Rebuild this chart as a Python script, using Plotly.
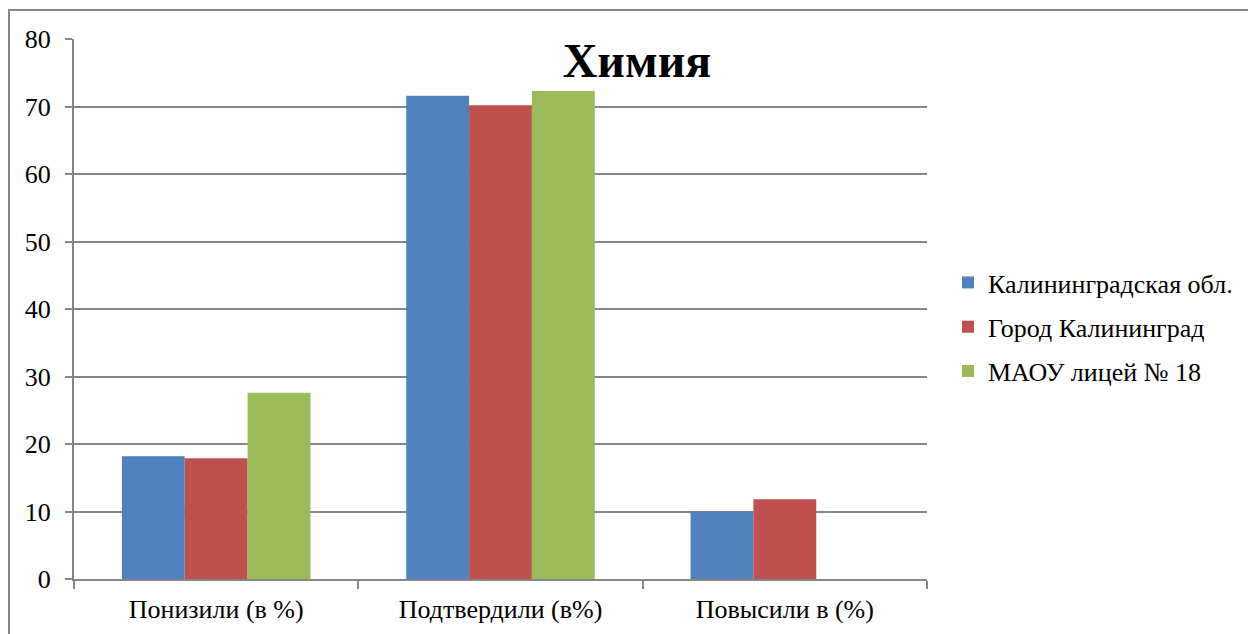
import plotly.graph_objects as go

categories = ["Понизили (в %)", "Подтвердили (в%)", "Повысили в (%)"]
series_names = ["Калининградская обл.", "Город Калининград", "МАОУ лицей № 18"]
region_values = [18.2, 71.6, 10.0]
city_values = [17.9, 70.2, 11.8]
school_values = [27.6, 72.3, 0]
colors = ["#4F81BD", "#C0504D", "#9BBB59"]
y_ticks = [0, 10, 20, 30, 40, 50, 60, 70, 80]
title_text = "Химия"

FONT = "Liberation Serif"
W, H = 1248, 626
OX, OY = 8, 8  # page body offset

fig = go.Figure()
for name, vals, col in zip(series_names, [region_values, city_values, school_values], colors):
    fig.add_trace(go.Bar(name=name, x=categories, y=vals, marker=dict(color=col, line=dict(width=0)),
                         legendgroup=name))

fig.update_layout(
    width=W, height=H,
    paper_bgcolor="white", plot_bgcolor="white",
    margin=dict(l=74 - OX, r=W - (927 - OX), t=39 - OY, b=H - (579 - OY)),
    barmode="group", bargap=0.337, bargroupgap=0,
    font=dict(family=FONT, size=26, color="black"),
    title=dict(text="<b>" + title_text + "</b>", font=dict(family=FONT, size=48, color="black"),
               xref="container", yref="container", x=(637 - OX) / W, xanchor="center",
               y=1 - (60 - OY) / H, yanchor="middle"),
    legend=dict(x=(948 - OX) / W, xref="container", xanchor="left",
                y=1 - (327 - OY) / H, yref="container", yanchor="middle",
                font=dict(family=FONT, size=26, color="black"),
                traceorder="grouped", tracegroupgap=7.5, itemwidth=30),
    showlegend=True,
)
fig.update_xaxes(showline=True, linecolor="#868686", linewidth=2, ticks="outside", tickson="boundaries",
                 ticklen=8, tickcolor="#868686", tickwidth=2, showgrid=False, ticklabelstandoff=6,
                 automargin=False,
                 tickfont=dict(family=FONT, size=26, color="black"))
fig.update_yaxes(range=[0, 80], tickvals=y_ticks, showline=True, linecolor="#868686", linewidth=2,
                 ticks="outside", ticklen=7, tickcolor="#868686", tickwidth=2, ticklabelstandoff=9,
                 automargin=False,
                 showgrid=True, gridcolor="#868686", gridwidth=2, zeroline=False,
                 tickfont=dict(family=FONT, size=26, color="black"))

# frame border (top and left)
fig.add_shape(type="line", xref="paper", yref="paper", x0=-66/853, x1=1300/853, y0=1 + 29/540, y1=1 + 29/540,
              line=dict(color="#868686", width=2))
fig.add_shape(type="line", xref="paper", yref="paper", x0=-65/853, x1=-65/853, y0=1 + 29/540, y1=-70/540,
              line=dict(color="#868686", width=2))

fig.write_html("out.html")
